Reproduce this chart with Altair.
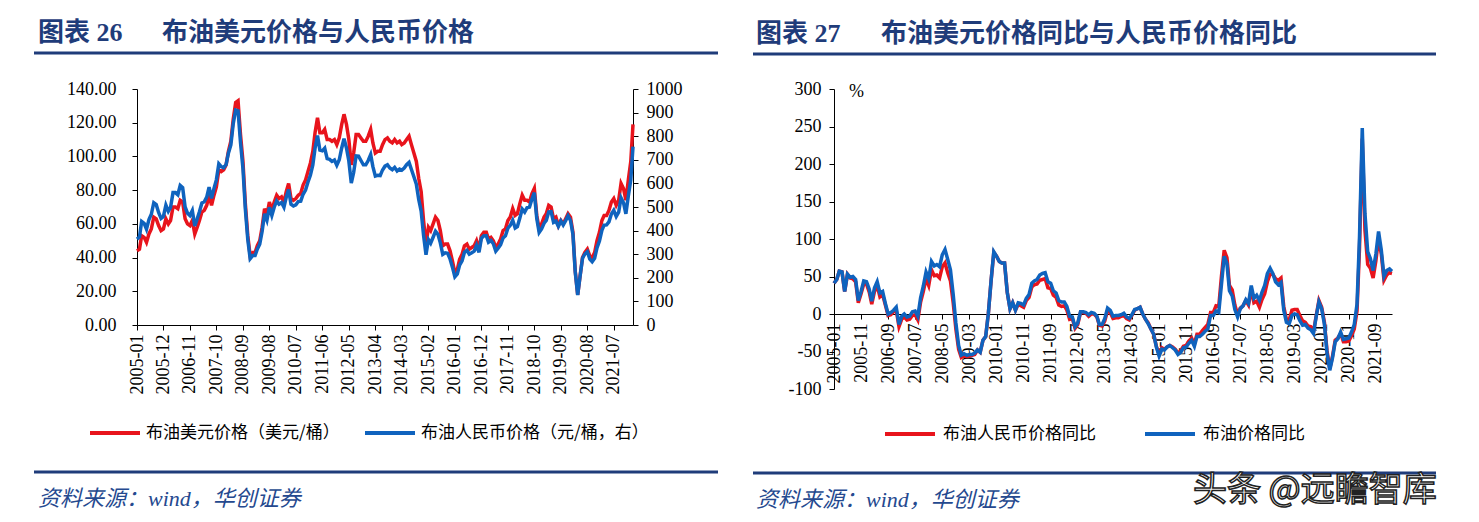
import altair as alt
import pandas as pd

# ---------------- data ----------------
months = pd.date_range("2005-01-01", "2022-03-01", freq="MS").strftime("%Y-%m-%d").tolist()

# Brent, USD/bbl (left axis)
usd = [
    44, 45, 53, 52, 49, 54, 57, 64, 63, 59, 56, 57,
    63, 60, 62, 70, 70, 69, 74, 73, 63, 60, 59, 62,
    54, 58, 62, 67, 68, 71, 77, 71, 77, 82, 92, 91,
    92, 95, 103, 109, 122, 132, 133, 113, 97, 72, 53, 41,
    43, 43, 47, 50, 58, 69, 65, 73, 68, 73, 77, 75,
    76, 73, 79, 84, 75, 74, 75, 77, 78, 83, 86, 91,
    96, 103, 114, 123, 114, 114, 116, 110, 110, 109, 110, 107,
    111, 119, 125, 119, 110, 95, 102, 113, 113, 111, 109, 109,
    112, 116, 108, 102, 103, 103, 107, 110, 111, 109, 108, 110,
    108, 109, 107, 108, 110, 112, 107, 102, 97, 87, 79, 62,
    48, 58, 56, 60, 64, 62, 56, 47, 48, 48, 44, 38,
    31, 33, 39, 42, 47, 48, 45, 46, 47, 50, 45, 53,
    55, 55, 51, 52, 50, 46, 48, 51, 56, 57, 62, 64,
    69, 65, 66, 72, 77, 74, 74, 73, 78, 81, 65, 57,
    60, 64, 66, 71, 70, 63, 64, 59, 62, 60, 63, 66,
    64, 55, 32, 18, 29, 40, 43, 45, 41, 40, 43, 50,
    55, 62, 65, 65, 68, 73, 75, 71, 74, 84, 81, 74,
    86, 97, 119,
]

# Brent, CNY/bbl (right axis)
rmb = [
    364, 373, 439, 431, 406, 447, 469, 518, 510, 477, 452, 460,
    508, 482, 498, 561, 561, 552, 591, 582, 500, 474, 464, 485,
    420, 450, 480, 517, 522, 542, 584, 537, 579, 615, 683, 671,
    666, 680, 728, 763, 853, 911, 908, 773, 663, 492, 362, 281,
    294, 294, 321, 342, 396, 471, 444, 499, 464, 499, 526, 512,
    519, 499, 540, 574, 512, 504, 509, 523, 525, 554, 572, 605,
    634, 678, 749, 803, 741, 738, 749, 705, 702, 693, 699, 677,
    700, 750, 789, 750, 695, 601, 647, 716, 715, 697, 679, 679,
    697, 722, 671, 631, 634, 633, 657, 673, 679, 665, 658, 668,
    653, 661, 656, 665, 679, 689, 659, 628, 597, 532, 483, 381,
    298, 362, 347, 372, 397, 384, 348, 299, 306, 304, 280, 245,
    204, 216, 254, 272, 308, 316, 300, 306, 313, 338, 308, 367,
    378, 378, 351, 358, 344, 313, 325, 340, 369, 378, 410, 422,
    444, 411, 417, 453, 491, 478, 497, 500, 534, 561, 451, 392,
    407, 431, 443, 479, 480, 435, 440, 418, 441, 424, 442, 463,
    443, 384, 225, 127, 206, 283, 301, 311, 279, 268, 283, 327,
    356, 401, 423, 424, 437, 470, 486, 460, 478, 539, 518, 471,
    547, 615, 756,
]

# YoY %, CNY price (red)
rmb_yoy = [
    41, 46, 57, 56, 30, 53, 48, 47, 43, 15, 27, 40,
    40, 29, 13, 30, 38, 23, 26, 12, -2, -1, 3, 5,
    -17, -7, -4, -8, -7, -2, -1, -8, 16, 30, 47, 38,
    59, 51, 52, 48, 63, 68, 55, 44, 15, -20, -47, -58,
    -56, -57, -56, -55, -54, -48, -51, -35, -30, 1, 45, 82,
    77, 70, 68, 68, 29, 7, 15, 5, 13, 11, 9, 18,
    22, 36, 39, 40, 45, 46, 47, 35, 34, 25, 22, 12,
    10, 11, 5, -7, -6, -19, -14, 2, 2, 1, -3, 0,
    0, -4, -15, -16, -9, 5, 2, -6, -5, -5, -3, -2,
    -6, -8, -2, 5, 7, 9, 0, -7, -12, -20, -27, -43,
    -54, -45, -47, -44, -42, -44, -47, -52, -49, -43, -42, -36,
    -32, -40, -27, -27, -22, -18, -14, 2, 2, 11, 10, 50,
    85, 75, 38, 32, 12, -1, 8, 11, 18, 12, 33, 15,
    17, 9, 19, 27, 43, 53, 53, 47, 45, 48, 10, -7,
    -8, 5, 6, 6, -2, -9, -11, -16, -17, -24, -2, 18,
    9, -11, -49, -73, -57, -35, -32, -26, -37, -37, -36, -29,
    -20, 4, 88, 234, 112, 66, 61, 48, 71, 101, 80, 45,
    52, 55, 54,
]

# YoY %, USD price (blue)
usd_yoy = [
    41, 46, 57, 56, 30, 53, 49, 50, 46, 18, 30, 44,
    43, 33, 17, 35, 43, 28, 30, 14, 0, 2, 5, 9,
    -14, -3, 0, -4, -3, 3, 4, -3, 22, 37, 56, 47,
    70, 64, 66, 63, 79, 86, 73, 59, 26, -12, -42, -55,
    -53, -55, -54, -54, -52, -48, -51, -35, -30, 1, 45, 83,
    77, 70, 68, 68, 29, 7, 15, 5, 15, 14, 12, 21,
    26, 41, 44, 46, 52, 54, 55, 43, 41, 31, 28, 18,
    16, 16, 10, -3, -4, -17, -12, 3, 3, 2, -1, 2,
    1, -3, -14, -14, -6, 8, 5, -3, -2, -2, -1, 1,
    -4, -6, -1, 6, 7, 9, 0, -7, -13, -20, -27, -44,
    -56, -47, -48, -44, -42, -45, -48, -54, -51, -45, -44, -39,
    -35, -43, -30, -30, -27, -23, -20, -2, -2, 4, 2, 39,
    77, 67, 31, 24, 6, -4, 7, 11, 19, 14, 38, 21,
    25, 18, 29, 38, 54, 61, 54, 43, 39, 42, 5, -11,
    -13, -2, 0, -1, -9, -15, -14, -19, -21, -26, -3, 16,
    7, -14, -52, -75, -59, -37, -33, -24, -34, -33, -32, -24,
    -14, 13, 103, 248, 134, 83, 74, 58, 80, 110, 85, 50,
    58, 60, 57,
]

left_ticks = ["2005-01", "2005-12", "2006-11", "2007-10", "2008-09", "2009-08", "2010-07",
              "2011-06", "2012-05", "2013-04", "2014-03", "2015-02", "2016-01", "2016-12",
              "2017-11", "2018-10", "2019-09", "2020-08", "2021-07"]
right_ticks = ["2005-01", "2005-11", "2006-09", "2007-07", "2008-05", "2009-03", "2010-01",
               "2010-11", "2011-09", "2012-07", "2013-05", "2014-03", "2015-01", "2015-11",
               "2016-09", "2017-07", "2018-05", "2019-03", "2020-01", "2020-11", "2021-09"]
usd_axis_ticks = [0, 20, 40, 60, 80, 100, 120, 140]
rmb_axis_ticks = [0, 100, 200, 300, 400, 500, 600, 700, 800, 900, 1000]
yoy_axis_ticks = [-100, -50, 0, 50, 100, 150, 200, 250, 300]

title_left = ("图表 26", "布油美元价格与人民币价格")
title_right = ("图表 27", "布油美元价格同比与人民币价格同比")
legend_left = ("布油美元价格（美元/桶）", "布油人民币价格（元/桶，右）")
legend_right = ("布油人民币价格同比", "布油价格同比")
source_text = "资料来源：wind，华创证券"
watermark = "头条 @远瞻智库"

# ---------------- style ----------------
RED = "#E8141C"
BLUE = "#0F63BE"
NAVY = "#1F3C7A"
SRC = "#25498F"
NUM_FONT = "Liberation Serif"
CJK_FONT = "Noto Sans CJK SC"
MIX_FONT = "Liberation Serif, Noto Sans CJK SC"

df1 = pd.DataFrame({"date": months, "usd": usd, "rmb": rmb})
df2 = pd.DataFrame({"date": months, "rmb_yoy": rmb_yoy, "usd_yoy": usd_yoy})


def dt(s):
    return alt.DateTime(year=int(s[:4]), month=int(s[5:7]), date=1, utc=True)


ax = dict(grid=False, domainColor="black", tickColor="black", labelColor="black",
          labelFont=NUM_FONT, labelFontSize=18, tickSize=5, domainWidth=1, tickWidth=1,
          labelOverlap=False)

xdom = [dt("2005-01"), dt("2022-03")]


def hrule(x1, x2, y, color, width):
    return (alt.Chart(alt.Data(values=[{}]))
            .mark_rule(color=color, strokeWidth=width, strokeCap="butt")
            .encode(x=alt.value(x1), x2=alt.value(x2), y=alt.value(y)))


def label(s, x, y, size, color="black", font=CJK_FONT, weight="normal", style="normal", **kw):
    return (alt.Chart(alt.Data(values=[{}]))
            .mark_text(text=s, font=font, fontSize=size, color=color, fontWeight=weight,
                       fontStyle=style, align="left", baseline="middle", **kw)
            .encode(x=alt.value(x), y=alt.value(y)))


# ---------------- left panel ----------------
x_left = alt.X("date:T", title=None,
               scale=alt.Scale(type="utc", domain=xdom),
               axis=alt.Axis(values=[dt(s) for s in left_ticks], format="%Y-%m", labelAngle=270,
                             labelPadding=4, labelFlush=False, **ax))

red1 = alt.Chart(df1).mark_line(color=RED, strokeWidth=3.5).encode(
    x=x_left,
    y=alt.Y("usd:Q", title=None, scale=alt.Scale(domain=[0, 140], nice=False),
            axis=alt.Axis(values=usd_axis_ticks, format=".2f", orient="left", labelPadding=16, **ax)))
blue1 = alt.Chart(df1).mark_line(color=BLUE, strokeWidth=3.5).encode(
    x=x_left,
    y=alt.Y("rmb:Q", title=None, scale=alt.Scale(domain=[0, 1000], nice=False),
            axis=alt.Axis(values=rmb_axis_ticks, format="d", orient="right", labelPadding=8, **ax)))

deco_left = [
    label(title_left[0], -99, -56, 26, color=NAVY, font=MIX_FONT, weight="bold"),
    label(title_left[1], 25, -56, 26, color=NAVY, font=MIX_FONT, weight="bold"),
    hrule(-103, 581, -36, NAVY, 3),
    hrule(-47, 3, 344, RED, 4),
    label(legend_left[0], 9, 344, 17),
    hrule(228, 278, 344, BLUE, 4),
    label(legend_left[1], 284, 344, 17),
    hrule(-103, 581, 383, NAVY, 3),
    label(source_text, -99, 410, 22, color=SRC, font=MIX_FONT, style="italic"),
]

left = alt.layer(red1, blue1, *deco_left).resolve_scale(y="independent").properties(width=496, height=236)

# ---------------- right panel ----------------
x_right = alt.X("date:T", title=None,
                scale=alt.Scale(type="utc", domain=xdom),
                axis=alt.Axis(values=[dt(s) for s in right_ticks], format="%Y-%m", labelAngle=270,
                              labelPadding=4, offset=-75, labelFlush=False, **ax))
yoy_axis = alt.Axis(values=yoy_axis_ticks, labelExpr="datum.value + ''", labelPadding=8, **ax)
yoy_scale = alt.Scale(domain=[-100, 300], nice=False)

red2 = alt.Chart(df2).mark_line(color=RED, strokeWidth=3.5).encode(
    x=x_right, y=alt.Y("rmb_yoy:Q", title=None, scale=yoy_scale, axis=yoy_axis))
blue2 = alt.Chart(df2).mark_line(color=BLUE, strokeWidth=3.5).encode(
    x=x_right, y=alt.Y("usd_yoy:Q", title=None, scale=yoy_scale, axis=yoy_axis))

deco_right = [
    label(title_right[0], -78, -55, 26, color=NAVY, font=MIX_FONT, weight="bold"),
    label(title_right[1], 47, -55, 26, color=NAVY, font=MIX_FONT, weight="bold"),
    hrule(-81, 602, -35, NAVY, 3),
    label("%", 15, 3, 18, font=MIX_FONT),
    hrule(51, 101, 345, RED, 4),
    label(legend_right[0], 109, 345, 17),
    hrule(311, 361, 345, BLUE, 4),
    label(legend_right[1], 369, 345, 17),
    hrule(-81, 602, 384, NAVY, 3),
    label(source_text, -78, 411, 22, color=SRC, font=MIX_FONT, style="italic"),
    label(watermark, 359, 402, 34, color="white", font=CJK_FONT, stroke="#222222", strokeWidth=1.5),
]

right = alt.layer(red2, blue2, *deco_right).properties(width=558, height=300)

chart = (alt.hconcat(left, right, spacing=31)
         .properties(padding={"left": 24, "top": 12, "right": 0, "bottom": 0}, background="white")
         .configure_view(strokeWidth=0))

chart.save("out.html", embed_options={"renderer": "svg", "actions": False})
